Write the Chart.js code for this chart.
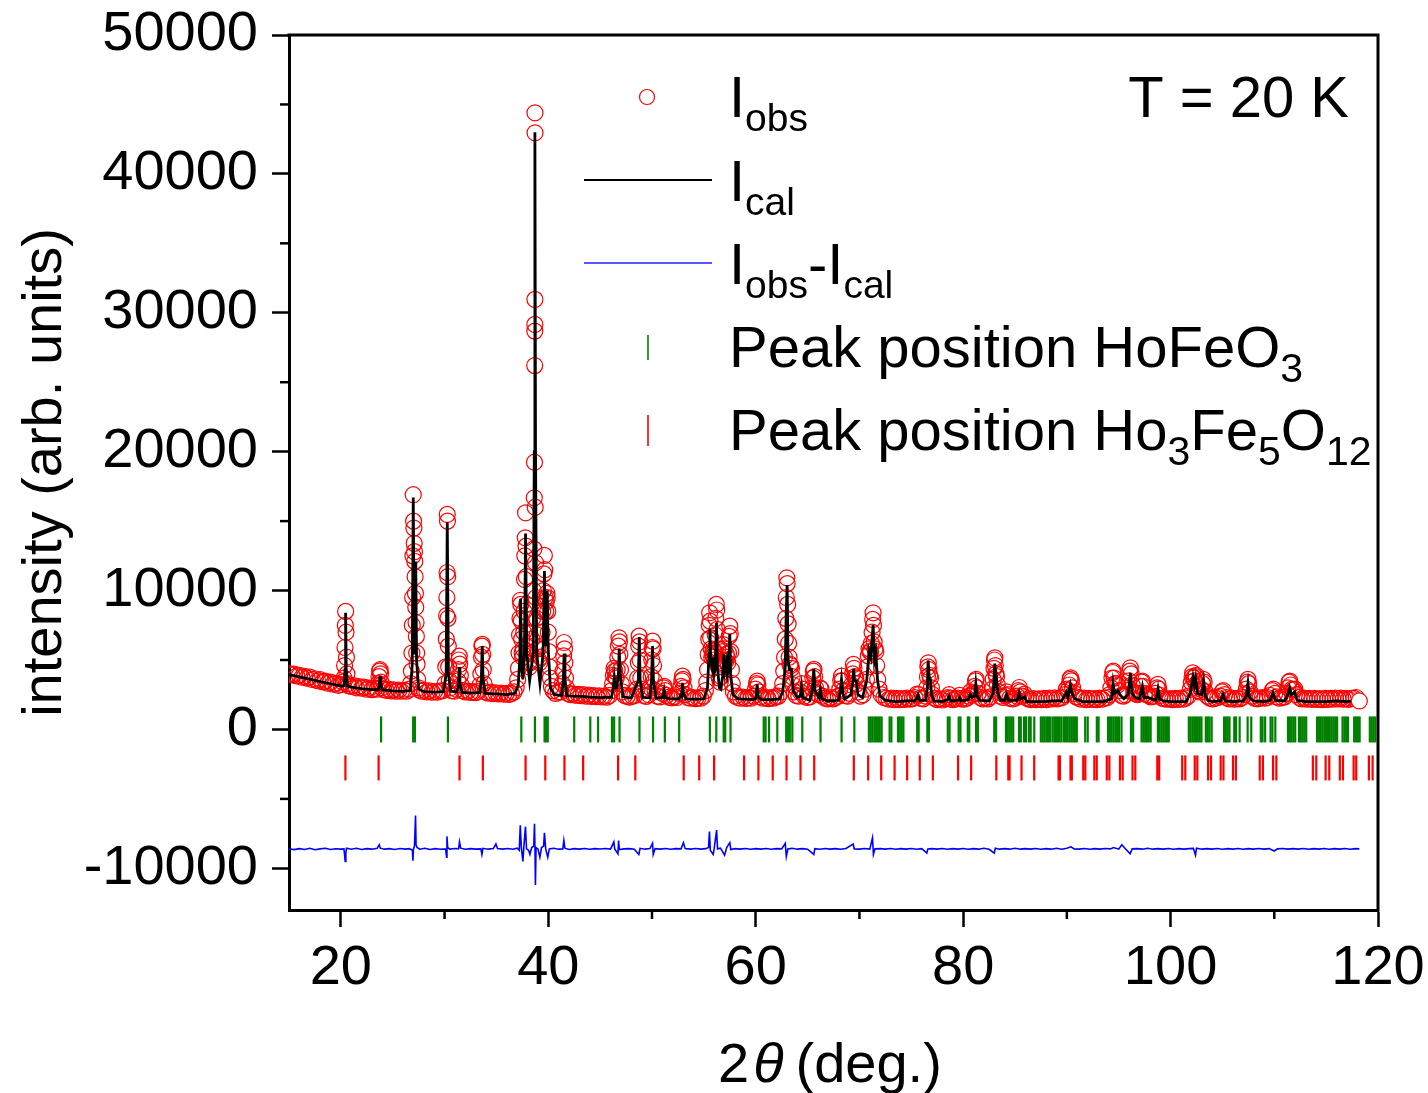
<!DOCTYPE html>
<html><head><meta charset="utf-8">
<script src="https://cdn.jsdelivr.net/npm/chart.js@4.4.1/dist/chart.umd.min.js"></script>
<style>html,body{margin:0;padding:0;background:#fff}#wrap{width:1428px;height:1093px}</style>
</head><body><div id="wrap"><canvas id="c" width="1428" height="1093"></canvas></div>
<script>
const xTickLabels=[20,40,60,80,100,120];
const xMinorTicks=[30,50,70,90,110];
const yTickLabels=[-10000,0,10000,20000,30000,40000,50000];
const yMinorTicks=[-5000,5000,15000,25000,35000,45000];

// calculated profile [2theta, intensity]
const calcPattern=[[15.0,3950],[16.0,3790],[17.0,3620],[18.0,3450],[19.0,3290],[20.0,3130],[20.3,3150],[20.4,4300],[20.46,8400],[20.52,4300],[20.62,3120],[21.0,3040],[22.0,2940],[23.0,2860],[23.62,2860],[23.72,3300],[23.78,3850],[23.85,3300],[24.0,2840],[25.0,2780],[26.0,2740],[26.7,2800],[26.88,4600],[26.98,16700],[27.08,5500],[27.14,9000],[27.22,12100],[27.3,5000],[27.5,2900],[28.0,2730],[29.0,2690],[29.9,2720],[30.15,4000],[30.26,14900],[30.37,4000],[30.6,2750],[31.2,2700],[31.35,3300],[31.41,4500],[31.48,3300],[31.7,2660],[32.5,2630],[33.4,2650],[33.55,3700],[33.63,6000],[33.71,3700],[33.9,2600],[35.0,2560],[36.0,2510],[36.8,2600],[37.1,3200],[37.25,5000],[37.33,9400],[37.42,4500],[37.55,3600],[37.7,5500],[37.81,14100],[37.92,5500],[38.2,3500],[38.55,5500],[38.65,20000],[38.71,43000],[38.77,20000],[38.88,5500],[39.2,3300],[39.5,5500],[39.63,11400],[39.72,6000],[39.82,8000],[39.9,10000],[39.98,6000],[40.2,3000],[40.6,2500],[41.3,2450],[41.45,3600],[41.53,5470],[41.61,3600],[41.8,2420],[42.5,2400],[43.3,2380],[44.0,2330],[45.0,2290],[46.1,2320],[46.25,3000],[46.36,3720],[46.45,3000],[46.6,3000],[46.78,4200],[46.84,5830],[46.92,4000],[47.2,2350],[48.0,2260],[48.68,3500],[48.77,6650],[48.86,3500],[49.1,2300],[49.8,2280],[49.95,3500],[50.05,6000],[50.14,3500],[50.4,2250],[51.05,2300],[51.17,2800],[51.28,2300],[51.8,2200],[52.6,2200],[52.78,2500],[52.87,2400],[52.94,3360],[53.02,2600],[53.3,2200],[54.0,2180],[55.0,2200],[55.35,3000],[55.5,5500],[55.58,7250],[55.66,5000],[55.78,4500],[55.9,5200],[55.98,4000],[56.1,4500],[56.22,7680],[56.3,4500],[56.5,3000],[56.65,2900],[56.8,3800],[56.93,5400],[57.02,4200],[57.19,4900],[57.28,4000],[57.4,4500],[57.5,6890],[57.58,4000],[57.8,2500],[58.3,2200],[59.0,2180],[59.8,2150],[60.0,2250],[60.14,3240],[60.25,2300],[60.6,2150],[61.5,2150],[62.3,2200],[62.6,2700],[62.85,4500],[62.93,8000],[63.03,10400],[63.12,5000],[63.25,4300],[63.45,4320],[63.6,2800],[64.0,2300],[64.3,2400],[64.42,3120],[64.55,2300],[65.2,2100],[65.45,2800],[65.6,4370],[65.72,2800],[66.1,2300],[66.24,2880],[66.38,2200],[67.0,2050],[68.0,2100],[68.15,2800],[68.27,3600],[68.4,2600],[68.6,2200],[69.2,2500],[69.35,3400],[69.45,4370],[69.52,3500],[69.7,3500],[69.85,2500],[70.3,2300],[70.7,3500],[70.93,5640],[71.1,5200],[71.32,7510],[71.45,5000],[71.58,5520],[71.75,3500],[72.0,2400],[72.5,2100],[73.5,2000],[74.5,2050],[75.3,2050],[75.5,2200],[75.65,2500],[75.8,2100],[76.4,2100],[76.55,3000],[76.62,4970],[76.72,3800],[76.85,3600],[76.95,2500],[77.2,2050],[78.0,2000],[78.5,2150],[78.65,2400],[78.8,2050],[79.5,2100],[79.67,2300],[79.8,2050],[80.5,2150],[80.7,2520],[80.85,2300],[81.1,2400],[81.22,3310],[81.35,2400],[81.6,2100],[82.5,2050],[82.9,2600],[83.05,4750],[83.15,3500],[83.21,3720],[83.35,2600],[83.6,2100],[84.0,2100],[84.18,2520],[84.35,2100],[85.2,2100],[85.4,2640],[85.55,2200],[85.94,2350],[86.1,2000],[87.0,2000],[88.0,2000],[88.5,2050],[89.5,2050],[89.96,2690],[90.1,2300],[90.34,3200],[90.5,2600],[90.8,2200],[91.5,2000],[92.5,2000],[93.5,2000],[94.3,2200],[94.45,3360],[94.6,2600],[94.93,2800],[95.1,2500],[95.5,2200],[95.9,2500],[96.13,4080],[96.3,2600],[96.6,2300],[97.0,2200],[97.28,3120],[97.45,2300],[97.8,2300],[98.6,2100],[98.79,2930],[98.95,2200],[99.3,2050],[100.0,2000],[101.0,2000],[101.5,2000],[101.9,2600],[102.16,3790],[102.3,3200],[102.42,3700],[102.6,2600],[103.0,2500],[103.19,3480],[103.35,2400],[103.6,2100],[104.0,2000],[104.8,2050],[105.05,2520],[105.3,2050],[106.0,2000],[107.0,2050],[107.3,2400],[107.46,3310],[107.6,2300],[108.0,2050],[109.0,2000],[109.6,2100],[109.87,2640],[110.1,2100],[111.0,2050],[111.3,2500],[111.48,3000],[111.65,2500],[111.96,2700],[112.2,2100],[113.0,2000],[114.0,2000],[115.0,2000],[116.0,2050],[117.0,2000],[117.6,2050],[117.8,2350],[118.0,2100]];

// observed points [2theta, intensity]
const obsPattern=[[15.0,4020],[15.25,3930],[15.5,3990],[15.75,3850],[16.0,3900],[16.25,3760],[16.5,3820],[16.75,3700],[17.0,3760],[17.25,3600],[17.5,3650],[17.75,3520],[18.0,3580],[18.25,3420],[18.5,3480],[18.75,3330],[19.0,3400],[19.25,3260],[19.5,3310],[19.75,3180],[20.0,3250],[20.2,3400],
[20.3,3700],[20.36,4600],[20.4,5900],[20.43,7500],[20.46,8500],[20.5,7000],[20.54,5200],[20.58,4000],[20.65,3300],
[20.75,3150],[21.0,3100],[21.25,3150],[21.5,3000],[21.75,3080],[22.0,2980],[22.25,3050],[22.5,2900],[22.75,2980],[23.0,2870],[23.25,2950],[23.5,2900],
[23.62,3300],[23.68,3800],[23.74,4200],[23.78,4300],[23.83,4000],[23.88,3400],[23.95,3000],
[24.1,2880],[24.35,2820],[24.6,2900],[24.85,2780],[25.1,2850],[25.35,2760],[25.6,2830],[25.85,2750],[26.1,2820],[26.35,2760],[26.6,2900],
[26.72,3300],[26.8,4200],[26.85,5500],[26.89,7500],[26.92,9500],[26.95,12500],[26.98,16900],[27.01,15000],[27.04,14500],[27.07,13400],[27.1,12800],[27.13,12100],[27.16,11000],[27.19,9800],[27.22,8800],[27.25,7700],[27.28,6700],[27.31,5500],[27.35,4700],[27.4,3600],[27.48,3000],
[27.55,2850],[27.8,2760],[28.05,2820],[28.3,2700],[28.55,2780],[28.8,2690],[29.05,2750],[29.3,2680],[29.55,2760],[29.8,2800],
[30.05,3300],[30.12,4500],[30.17,6500],[30.2,8200],[30.22,9500],[30.24,11300],[30.26,15480],[30.28,15000],[30.3,11000],[30.33,8000],[30.36,6000],[30.4,4500],[30.46,3500],[30.55,3000],
[30.7,2800],[30.95,2750],[31.15,2900],
[31.28,3500],[31.34,4300],[31.38,5000],[31.42,5280],[31.46,4700],[31.52,3900],[31.6,3200],
[31.75,2800],[32.0,2700],[32.25,2760],[32.5,2660],[32.75,2720],[33.0,2650],[33.25,2750],
[33.42,3200],[33.5,4000],[33.56,5200],[33.6,6000],[33.64,6120],[33.68,5400],[33.73,4300],[33.8,3300],
[33.95,2700],[34.2,2620],[34.45,2680],[34.7,2580],[34.95,2640],[35.2,2560],[35.45,2620],[35.7,2540],[35.95,2600],[36.2,2520],[36.45,2600],[36.7,2700],[36.9,3000],
[37.05,3600],[37.12,4400],[37.18,5500],[37.23,6800],[37.27,8000],[37.31,9300],[37.35,9000],[37.39,7800],[37.43,6500],[37.48,5500],[37.53,5200],[37.58,5800],[37.63,7000],[37.67,8500],[37.71,10800],[37.74,12500],[37.78,13800],[37.81,15600],[37.85,13200],[37.88,11000],[37.92,9000],[37.97,7000],[38.03,5600],[38.1,4800],[38.18,4500],[38.26,4800],[38.34,5500],[38.42,6500],[38.5,8000],[38.56,10000],[38.61,13000],[38.65,16680],[38.67,19240],[38.69,26200],[38.7,28680],[38.705,29160],[38.71,30960],[38.715,44400],[38.72,42960],[38.74,16000],[38.77,12000],[38.81,9500],[38.86,8000],[38.92,6800],[39.0,5800],[39.08,5000],[39.16,4800],[39.24,5200],[39.32,6000],[39.4,7000],[39.46,8500],[39.52,10000],[39.58,11200],[39.62,12530],[39.66,11500],[39.7,9500],[39.75,8500],[39.8,9200],[39.86,9800],[39.9,9500],[39.95,8500],[40.0,7000],[40.06,5600],[40.12,4500],[40.2,3700],[40.3,3100],
[40.45,2800],[40.7,2600],[40.95,2680],[41.2,2700],
[41.35,3300],[41.42,4200],[41.48,5300],[41.52,6260],[41.56,5800],[41.6,4800],[41.66,3700],[41.75,3000],
[41.9,2600],[42.15,2500],[42.4,2560],[42.65,2460],[42.9,2520],[43.15,2440],[43.4,2500],[43.65,2400],[43.9,2470],[44.15,2380],[44.4,2440],[44.65,2360],[44.9,2420],[45.15,2340],[45.4,2400],[45.65,2330],[45.9,2450],[46.1,2800],
[46.2,3300],[46.28,3900],[46.34,4400],[46.4,4200],[46.48,3800],[46.56,3700],[46.64,4300],[46.7,5200],[46.76,6000],[46.82,6600],[46.86,6300],[46.9,5400],[46.96,4300],[47.04,3300],[47.15,2700],
[47.35,2450],[47.6,2380],[47.85,2330],[48.1,2400],[48.35,2450],[48.55,2900],
[48.62,3700],[48.68,4800],[48.72,6000],[48.76,6720],[48.8,6300],[48.85,5000],[48.92,3700],[49.0,2900],
[49.2,2450],[49.45,2380],[49.7,2500],[49.85,3000],
[49.92,3800],[49.98,5000],[50.02,5900],[50.06,6360],[50.1,5800],[50.15,4600],[50.22,3500],[50.3,2800],
[50.5,2400],[50.75,2350],[51.0,2600],[51.12,3000],[51.18,3100],[51.25,2800],[51.4,2450],[51.65,2330],[51.9,2280],[52.15,2350],[52.4,2300],[52.65,2600],[52.8,3100],[52.88,3500],[52.94,3840],[53.0,3600],[53.08,3000],[53.2,2500],[53.45,2300],[53.7,2250],[53.95,2300],[54.2,2220],[54.45,2280],[54.7,2250],[54.95,2400],[55.15,2800],
[55.28,3400],[55.36,4300],[55.42,5400],[55.47,6500],[55.52,7500],[55.56,8400],[55.6,7800],[55.65,6600],[55.7,5800],[55.76,5200],[55.82,5400],[55.88,5700],[55.94,5300],[56.0,5000],[56.05,5600],[56.1,6800],[56.15,8000],[56.2,9000],[56.24,8600],[56.28,7200],[56.33,5800],[56.4,4500],[56.48,3700],[56.58,3400],[56.68,3800],[56.76,4700],[56.84,5600],[56.9,6100],[56.96,5800],[57.02,5000],[57.1,4900],[57.17,5400],[57.22,5200],[57.3,4800],[57.38,5500],[57.44,6700],[57.5,7440],[57.55,6900],[57.6,5600],[57.66,4300],[57.74,3300],[57.85,2700],
[58.05,2400],[58.3,2300],[58.55,2250],[58.8,2320],[59.05,2230],[59.3,2300],[59.55,2250],[59.8,2400],[59.98,2900],[60.08,3300],[60.14,3480],[60.2,3200],[60.3,2700],[60.45,2350],[60.7,2250],[60.95,2300],[61.2,2220],[61.45,2290],[61.7,2250],[61.95,2350],[62.2,2400],[62.45,2700],
[62.6,3300],[62.7,4200],[62.78,5200],[62.85,6500],[62.9,8000],[62.95,9500],[63.0,10920],[63.04,10500],[63.08,9000],[63.12,7600],[63.17,6200],[63.22,5200],[63.3,4700],[63.38,4600],[63.45,4400],[63.52,3800],[63.6,3200],[63.72,2700],
[63.9,2450],[64.15,2400],[64.3,2700],[64.42,3300],[64.52,2900],[64.7,2400],[64.95,2300],[65.2,2350],[65.4,3000],[65.5,3700],[65.56,4200],[65.62,4320],[65.68,3800],[65.76,3000],[65.9,2600],[66.05,2500],[66.2,3000],[66.3,2900],[66.45,2400],[66.7,2250],[66.95,2200],[67.2,2280],[67.45,2200],[67.7,2300],[67.95,2400],[68.1,2900],[68.2,3500],[68.27,3840],[68.34,3500],[68.45,2800],[68.6,2450],[68.85,2400],[69.1,2600],[69.25,3200],[69.35,4000],[69.42,4680],[69.48,4400],[69.55,3800],[69.65,3700],[69.75,3300],[69.9,2700],[70.1,2400],[70.35,2500],[70.55,2900],[70.68,3600],[70.78,4500],[70.86,5300],[70.93,5800],[71.0,5600],[71.08,5600],[71.15,6200],[71.22,7000],[71.28,7920],[71.32,8400],[71.36,7500],[71.42,6300],[71.5,5800],[71.58,5600],[71.66,4600],[71.76,3600],[71.9,2900],[72.1,2500],
[72.35,2300],[72.6,2250],[72.85,2180],[73.1,2250],[73.35,2150],[73.6,2230],[73.85,2150],[74.1,2220],[74.35,2160],[74.6,2250],[74.85,2180],[75.1,2220],[75.35,2300],[75.55,2550],[75.7,2500],[75.9,2250],[76.15,2200],[76.4,2400],[76.5,3000],[76.56,3800],[76.6,4500],[76.64,4800],[76.7,4300],[76.78,3900],[76.86,3700],[76.94,3000],[77.05,2500],[77.25,2250],[77.5,2150],[77.75,2200],[78.0,2120],[78.25,2200],[78.5,2300],[78.65,2500],[78.8,2250],[79.0,2150],[79.25,2200],[79.5,2250],[79.67,2450],[79.85,2200],[80.1,2180],[80.35,2250],[80.55,2400],[80.7,2700],[80.85,2500],[81.0,2600],[81.12,3100],[81.2,3500],[81.26,3600],[81.34,3000],[81.45,2600],[81.65,2300],[81.9,2200],[82.15,2250],[82.4,2200],[82.6,2350],[82.8,2900],[82.9,3600],[82.97,4400],[83.02,5000],[83.06,5160],[83.1,4600],[83.16,4000],[83.22,3800],[83.3,3200],[83.42,2700],[83.6,2400],[83.85,2300],[84.05,2450],[84.18,2700],[84.3,2500],[84.5,2250],[84.75,2200],[85.0,2250],[85.2,2400],[85.32,2800],[85.42,3020],[85.52,2700],[85.7,2400],[85.9,2550],[86.05,2300],[86.3,2200],[86.55,2150],[86.8,2220],[87.05,2150],[87.3,2200],[87.55,2150],[87.8,2230],[88.05,2150],[88.3,2250],[88.55,2200],[88.8,2280],[89.05,2200],[89.3,2260],[89.55,2300],[89.8,2500],[89.95,2900],[90.1,2800],[90.22,3200],[90.3,3600],[90.36,3720],[90.44,3500],[90.55,3000],[90.7,2600],[90.9,2350],[91.15,2250],[91.4,2180],[91.65,2250],[91.9,2150],[92.15,2230],[92.4,2160],[92.65,2220],[92.9,2150],[93.15,2250],[93.4,2180],[93.65,2250],[93.9,2300],[94.1,2500],[94.25,3000],[94.35,3700],[94.42,4100],[94.48,4200],[94.56,3700],[94.65,3300],[94.78,3300],[94.9,3200],[95.05,2800],[95.25,2450],[95.45,2400],[95.65,2500],[95.85,2800],[95.98,3500],[96.06,4200],[96.12,4440],[96.2,4000],[96.3,3200],[96.45,2700],[96.6,2600],[96.8,2500],[97.0,2600],[97.12,3100],[97.22,3400],[97.28,3480],[97.36,3100],[97.5,2600],[97.7,2500],[97.9,2450],[98.1,2350],[98.35,2400],[98.55,2600],[98.7,3000],[98.78,3240],[98.86,2900],[99.0,2450],[99.2,2250],[99.45,2200],[99.7,2180],[99.95,2220],[100.2,2150],[100.45,2230],[100.7,2160],[100.95,2250],[101.2,2180],[101.45,2250],[101.7,2400],[101.9,2900],[102.0,3400],[102.08,3800],[102.14,4080],[102.22,3700],[102.3,3500],[102.38,3800],[102.44,3900],[102.52,3300],[102.65,2800],[102.8,2700],[102.95,2900],[103.08,3300],[103.16,3600],[103.24,3400],[103.35,2700],[103.55,2400],[103.8,2250],[104.05,2200],[104.3,2260],[104.55,2300],[104.8,2400],[104.98,2700],[105.08,2800],[105.2,2500],[105.4,2300],[105.65,2200],[105.9,2250],[106.15,2180],[106.4,2230],[106.65,2200],[106.9,2300],[107.15,2500],[107.3,2900],[107.4,3400],[107.46,3600],[107.54,3300],[107.65,2700],[107.85,2400],[108.1,2250],[108.35,2200],[108.6,2250],[108.85,2300],[109.1,2250],[109.35,2300],[109.6,2450],[109.8,2800],[109.92,2900],[110.05,2600],[110.25,2350],[110.5,2250],[110.75,2300],[111.0,2350],[111.2,2600],[111.32,3000],[111.42,3400],[111.5,3480],[111.58,3200],[111.7,2900],[111.85,2850],[111.98,2900],[112.15,2500],[112.4,2300],[112.65,2200],[112.9,2250],[113.15,2180],[113.4,2240],[113.65,2170],[113.9,2230],[114.15,2160],[114.4,2220],[114.65,2150],[114.9,2230],[115.15,2170],[115.4,2240],[115.65,2180],[115.9,2250],[116.15,2200],[116.4,2250],[116.65,2180],[116.9,2230],[117.15,2170],[117.4,2230],[117.65,2250],[117.9,2300]];
const lastObsPoint=[[118.2,2050]];

// difference curve [2theta, Iobs-Ical (offset)]
const diffPattern=[[15.0,-8600],[15.5,-8650],[16,-8580],[16.5,-8640],[17,-8560],[17.5,-8660],[18,-8600],[18.5,-8550],[19,-8640],[19.5,-8590],[20.0,-8620],[20.3,-8600],[20.42,-9500],[20.48,-8900],[20.55,-8550],[21,-8620],[21.5,-8560],[22,-8640],[22.5,-8580],[23,-8620],[23.5,-8560],[23.7,-8300],[23.8,-8550],[24.2,-8620],[24.7,-8580],[25.2,-8640],[25.7,-8570],[26.2,-8620],[26.6,-8580],[26.9,-8700],[26.95,-9450],[27.0,-8600],[27.1,-8400],[27.2,-6200],[27.25,-8300],[27.35,-8500],[27.6,-8620],[28.1,-8560],[28.6,-8640],[29.1,-8580],[29.6,-8630],[30.1,-8600],[30.2,-9200],[30.23,-7700],[30.3,-8500],[30.5,-8620],[31.0,-8570],[31.35,-8600],[31.44,-8100],[31.55,-8550],[32.0,-8630],[32.5,-8580],[33.0,-8620],[33.5,-8600],[33.6,-9000],[33.7,-8560],[34.2,-8620],[34.7,-8580],[34.95,-8250],[35.1,-8580],[35.6,-8620],[36.1,-8570],[36.6,-8630],[37.0,-8550],[37.2,-8700],[37.3,-6900],[37.4,-8500],[37.55,-9500],[37.65,-8400],[37.8,-7000],[37.9,-8600],[38.1,-8700],[38.23,-9000],[38.4,-8500],[38.6,-8400],[38.67,-6800],[38.72,-8700],[38.76,-11200],[38.82,-8500],[39.0,-8600],[39.19,-9200],[39.35,-8500],[39.55,-8400],[39.63,-7450],[39.75,-8600],[39.95,-9200],[40.1,-8600],[40.5,-8550],[41.0,-8620],[41.4,-8600],[41.5,-8000],[41.6,-8550],[42.0,-8640],[42.5,-8580],[43,-8620],[43.5,-8570],[44,-8630],[44.5,-8580],[45,-8610],[45.5,-8570],[46.0,-8620],[46.32,-8100],[46.4,-8600],[46.72,-8950],[46.78,-8000],[46.85,-8650],[47.3,-8600],[47.8,-8580],[48.3,-8620],[48.73,-9000],[48.85,-8560],[49.3,-8620],[49.8,-8580],[50.05,-8200],[50.12,-9000],[50.3,-8580],[50.8,-8620],[51.3,-8570],[51.8,-8630],[52.3,-8580],[52.8,-8600],[53.03,-8150],[53.2,-8580],[53.7,-8620],[54.2,-8570],[54.7,-8620],[55.2,-8580],[55.45,-8500],[55.54,-7350],[55.62,-8700],[55.9,-9000],[56.0,-8550],[56.23,-7250],[56.32,-8600],[56.6,-8550],[57.0,-9050],[57.2,-8500],[57.5,-8150],[57.6,-8650],[58.0,-8580],[58.5,-8620],[59,-8570],[59.5,-8630],[60,-8580],[60.5,-8620],[61,-8570],[61.5,-8630],[62,-8580],[62.5,-8600],[62.85,-8200],[62.95,-9150],[63.1,-8600],[63.5,-8560],[64.0,-8620],[64.5,-8580],[65.0,-8620],[65.6,-9000],[65.7,-8580],[66.2,-8630],[66.7,-8570],[67.2,-8620],[67.7,-8580],[68.2,-8630],[68.7,-8570],[69.4,-8250],[69.5,-8600],[70.0,-8620],[70.5,-8570],[71.0,-8620],[71.26,-7800],[71.35,-9000],[71.5,-8600],[72.0,-8580],[72.5,-8620],[73,-8570],[73.5,-8630],[74,-8580],[74.5,-8620],[75,-8570],[75.5,-8630],[76.0,-8580],[76.5,-8900],[76.6,-8600],[77,-8580],[77.5,-8620],[78,-8570],[78.5,-8630],[79,-8580],[79.5,-8620],[80,-8570],[80.5,-8630],[81,-8580],[81.5,-8620],[82,-8550],[82.5,-8630],[83.0,-8900],[83.1,-8550],[83.5,-8620],[84,-8580],[84.5,-8620],[85,-8560],[85.5,-8620],[86,-8580],[86.5,-8620],[87,-8570],[87.5,-8630],[88,-8580],[88.5,-8620],[89,-8560],[89.5,-8620],[90.0,-8550],[90.4,-8450],[90.7,-8600],[91.2,-8620],[91.7,-8570],[92.2,-8630],[92.7,-8580],[93.2,-8620],[93.7,-8570],[94.2,-8600],[94.5,-8500],[95.0,-8620],[95.3,-8300],[95.6,-8550],[96.1,-8950],[96.3,-8600],[96.8,-8580],[97.3,-8620],[97.8,-8560],[98.3,-8620],[98.8,-8580],[99.3,-8620],[99.8,-8570],[100.3,-8630],[100.8,-8580],[101.3,-8620],[101.8,-8580],[102.2,-8560],[102.4,-9050],[102.5,-8550],[103.0,-8620],[103.5,-8580],[104,-8620],[104.5,-8570],[105,-8630],[105.5,-8580],[106,-8620],[106.5,-8570],[107,-8630],[107.5,-8580],[108,-8620],[108.5,-8570],[109,-8620],[109.5,-8580],[110.0,-8750],[110.3,-8600],[110.8,-8570],[111.3,-8620],[111.8,-8580],[112.3,-8620],[112.8,-8570],[113.3,-8630],[113.8,-8580],[114.3,-8620],[114.8,-8570],[115.3,-8630],[115.8,-8580],[116.3,-8620],[116.8,-8570],[117.3,-8630],[117.8,-8580],[118.2,-8600]];

// Bragg positions (2theta)
const hofeo3Peaks=[23.88,26.97,27.14,30.32,37.40,38.71,39.64,39.78,39.95,42.50,44.05,44.80,46.14,46.35,46.87,48.79,50.10,51.24,52.62,55.58,56.20,56.91,57.06,57.57,60.77,60.95,61.29,62.08,62.94,63.12,63.29,63.53,64.49,66.25,68.28,69.51,70.91,71.09,71.26,71.44,71.61,71.79,71.96,72.14,72.91,73.08,73.72,73.89,74.07,74.24,75.57,75.71,76.55,76.70,78.52,78.69,79.57,79.74,80.45,80.59,81.25,81.43,83.00,83.18,84.13,84.30,84.48,84.65,84.83,85.39,85.56,85.88,86.05,86.33,86.51,86.86,87.49,87.67,87.84,88.02,88.19,88.37,88.61,88.79,88.96,89.14,89.31,89.49,89.73,89.91,90.08,90.26,90.43,90.61,90.78,90.96,91.77,92.01,92.89,93.06,93.97,94.15,94.32,94.50,94.68,94.85,95.03,95.27,96.18,96.39,97.20,97.37,97.55,97.73,97.90,98.08,98.78,98.95,99.13,99.30,99.48,99.65,99.83,101.76,101.93,102.11,102.28,102.46,102.63,102.81,102.98,103.40,103.58,103.75,103.96,105.16,105.33,105.51,105.68,106.14,106.31,106.66,107.43,107.78,108.70,108.87,109.12,109.64,109.82,110.10,111.32,111.50,111.67,111.85,112.02,112.38,112.55,112.73,112.90,113.08,114.13,114.30,114.48,114.65,114.83,115.00,115.18,115.35,115.53,115.71,115.88,116.06,116.58,116.76,116.93,117.11,117.70,117.88,118.06,118.23,119.21,119.39,119.56,119.74];
const garnetPeaks=[20.44,23.64,31.44,33.69,37.81,39.71,41.56,43.36,46.73,48.39,53.06,54.55,55.99,58.88,60.26,61.64,62.97,64.32,65.64,69.46,70.84,72.10,73.39,74.60,75.82,77.08,79.51,80.77,83.20,84.35,84.48,85.63,86.85,89.20,89.33,90.35,90.48,91.58,91.78,92.65,92.88,93.85,94.10,95.12,95.38,96.33,96.60,98.72,98.90,101.12,101.42,102.33,102.58,103.62,103.90,104.83,105.10,106.02,106.30,108.60,108.90,109.88,110.20,113.72,114.05,114.95,115.30,116.32,116.62,117.65,117.90,119.12,119.48];
const hofeo3TickLevel=0;
const garnetTickLevel=-2770;

const FONT='"Liberation Sans", Arial, Helvetica, sans-serif';
const FS=56;
const LFS=58;
const toXY=a=>a.map(p=>({x:p[0],y:p[1]}));

function rich(c,x,y,parts,size,subSize,subDy){
  let cx=x;
  parts.forEach(([t,sub])=>{
    c.font=(sub?subSize:size)+'px '+FONT;
    c.fillText(t,cx,y+(sub?subDy:0));
    cx+=c.measureText(t).width;
  });
}

const decor={id:'decor',afterDraw(chart){
  const c=chart.ctx,a=chart.chartArea,xs=chart.scales.x,ys=chart.scales.y;
  c.save();
  c.strokeStyle='#000';c.lineWidth=3;
  c.beginPath();c.moveTo(a.left-1.5,a.top);c.lineTo(a.right,a.top);c.lineTo(a.right,a.bottom+1.5);c.stroke();
  c.lineWidth=2.5;
  xMinorTicks.forEach(v=>{const px=xs.getPixelForValue(v);c.beginPath();c.moveTo(px,a.bottom);c.lineTo(px,a.bottom+9);c.stroke();});
  yMinorTicks.forEach(v=>{const py=ys.getPixelForValue(v);c.beginPath();c.moveTo(a.left,py);c.lineTo(a.left-9,py);c.stroke();});
  // axis titles
  c.fillStyle='#000';
  c.save();c.translate(46,(a.top+a.bottom)/2);c.rotate(-Math.PI/2);
  c.font=FS+'px '+FONT;c.textAlign='center';c.textBaseline='middle';
  c.fillText('intensity (arb. units)',0,0);c.restore();
  c.textAlign='left';c.textBaseline='alphabetic';
  c.font=FS+'px '+FONT;
  let tx=718;const ty=1082;
  c.fillText('2',tx,ty);tx+=c.measureText('2').width+4;
  c.font='italic '+FS+'px '+FONT;c.fillText('\u03b8',tx,ty);tx+=c.measureText('\u03b8').width+12;
  c.font=FS+'px '+FONT;c.fillText('(deg.)',tx,ty);
  // legend
  const lx=729;
  c.lineWidth=1.2;c.strokeStyle='#ff0000';
  c.beginPath();c.arc(647,97,7.5,0,Math.PI*2);c.stroke();
  rich(c,lx,117,[['I',0],['obs',1]],LFS,39,14);
  c.strokeStyle='#000';c.lineWidth=2;
  c.beginPath();c.moveTo(584,180);c.lineTo(712,180);c.stroke();
  rich(c,lx,201,[['I',0],['cal',1]],LFS,39,14);
  c.strokeStyle='#2020ff';c.lineWidth=1.5;
  c.beginPath();c.moveTo(584,263);c.lineTo(712,263);c.stroke();
  rich(c,lx,284,[['I',0],['obs',1],['-I',0],['cal',1]],LFS,39,14);
  c.strokeStyle='#008000';c.lineWidth=1.6;
  c.beginPath();c.moveTo(648,335);c.lineTo(648,360);c.stroke();
  rich(c,lx,367,[['Peak position HoFeO',0],['3',1]],LFS,41,15);
  c.strokeStyle='#ff0000';
  c.beginPath();c.moveTo(648,415);c.lineTo(648,446);c.stroke();
  rich(c,lx,450,[['Peak position Ho',0],['3',1],['Fe',0],['5',1],['O',0],['12',1]],LFS,41,15);
  c.font=LFS+'px '+FONT;c.textAlign='right';
  c.fillText('T = 20 K',1349,117);
  c.restore();
}};

new Chart(document.getElementById('c'),{
  type:'scatter',
  data:{datasets:[
    {label:'end',data:toXY(lastObsPoint),pointStyle:'circle',pointRadius:8,pointBorderColor:'#ff0000',pointBackgroundColor:'#ffffff',pointBorderWidth:1.2,order:0},
    {label:'Ical',type:'line',data:toXY(calcPattern),borderColor:'#000000',borderWidth:2.8,pointRadius:0,tension:0,fill:false,order:1},
    {label:'Iobs',data:toXY(obsPattern),pointStyle:'circle',pointRadius:8,pointBorderColor:'#ff0000',pointBackgroundColor:'rgba(0,0,0,0)',pointBorderWidth:1.2,order:2},
    {label:'Iobs-Ical',type:'line',data:toXY(diffPattern),borderColor:'#0000ff',borderWidth:1.6,pointRadius:0,tension:0,fill:false,order:3},
    {label:'HoFeO3',data:hofeo3Peaks.map(v=>({x:v,y:hofeo3TickLevel})),pointStyle:'line',pointRotation:90,pointRadius:13,pointBorderColor:'#008000',pointBorderWidth:2.2,order:4},
    {label:'Ho3Fe5O12',data:garnetPeaks.map(v=>({x:v,y:garnetTickLevel})),pointStyle:'line',pointRotation:90,pointRadius:12.5,pointBorderColor:'#ff0000',pointBorderWidth:2.2,order:5}
  ]},
  options:{
    animation:false,responsive:false,devicePixelRatio:1,events:[],
    layout:{padding:{top:35,right:50,left:0,bottom:0}},
    plugins:{legend:{display:false},tooltip:{enabled:false}},
    scales:{
      x:{type:'linear',min:15,max:120,
        afterBuildTicks:s=>{s.ticks=xTickLabels.map(v=>({value:v}));},
        afterFit:s=>{s.height=183;s.paddingLeft=0;s.paddingRight=0;},
        ticks:{font:{size:FS,family:FONT},color:'#000',padding:8,maxRotation:0,autoSkip:false,callback:v=>String(v)},
        grid:{drawOnChartArea:false,drawTicks:true,tickLength:17,tickWidth:2.5,tickColor:'#000'},
        border:{display:true,color:'#000',width:3}},
      y:{type:'linear',min:-13000,max:50000,
        afterBuildTicks:s=>{s.ticks=yTickLabels.map(v=>({value:v}));},
        afterFit:s=>{s.width=289;s.paddingTop=0;s.paddingBottom=0;},
        ticks:{font:{size:FS,family:FONT},color:'#000',padding:14,autoSkip:false,callback:v=>String(v)},
        grid:{drawOnChartArea:false,drawTicks:true,tickLength:17,tickWidth:2.5,tickColor:'#000'},
        border:{display:true,color:'#000',width:3}}
    }
  },
  plugins:[decor]
});
</script></body></html>
